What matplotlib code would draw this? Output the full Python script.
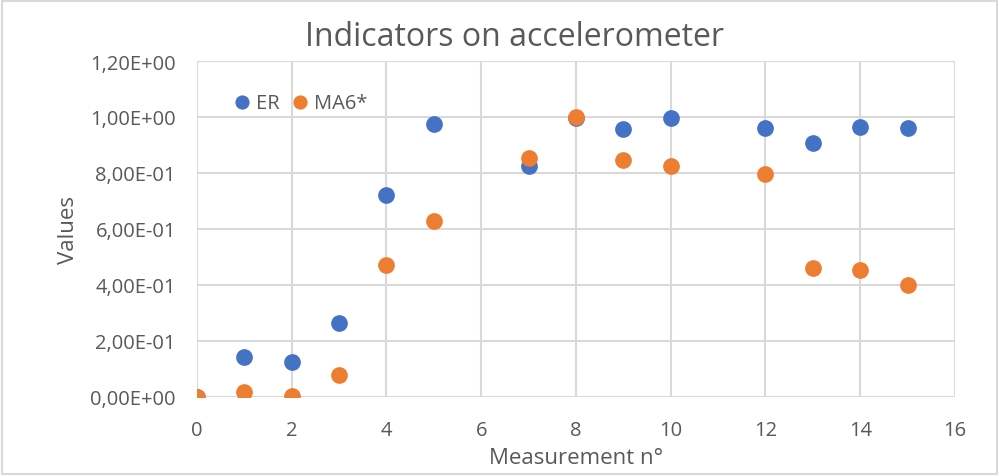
import matplotlib
matplotlib.use("Agg")
import matplotlib.pyplot as plt
from matplotlib.patches import Rectangle
from matplotlib.ticker import FuncFormatter

plt.rcParams['font.family'] = ['Open Sans', 'DejaVu Sans']

# data
x_meas = [0, 1, 2, 3, 4, 5, 7, 8, 9, 10, 12, 13, 14, 15]
er = [0.0, 0.143, 0.126, 0.265, 0.722, 0.975, 0.826, 0.997, 0.956, 0.998, 0.961, 0.906, 0.965, 0.961]
ma6 = [0.0, 0.018, 0.003, 0.077, 0.472, 0.628, 0.852, 1.0, 0.848, 0.824, 0.797, 0.461, 0.452, 0.401]

blue = '#4472C4'
orange = '#ED7D31'
txt = '#595959'
grid = '#D9D9D9'

fig = plt.figure(figsize=(9.99, 4.77), dpi=100)
ax = fig.add_axes([0.197, 0.166, 0.759, 0.704])

ax.scatter(x_meas, er, s=145, color=blue, label='ER', zorder=3, linewidths=0)
ax.scatter(x_meas, ma6, s=145, color=orange, label='MA6*', zorder=3, linewidths=0)

ax.set_xlim(0, 16)
ax.set_ylim(0, 1.2)
ax.set_xticks(range(0, 17, 2))
ax.set_yticks([0, 0.2, 0.4, 0.6, 0.8, 1.0, 1.2])
ax.yaxis.set_major_formatter(FuncFormatter(lambda v, p: f"{v:.2E}".replace('.', ',')))

ax.grid(True, color=grid, linewidth=1.5)
ax.set_axisbelow(True)
for s in ax.spines.values():
    s.set_visible(False)
ax.tick_params(length=0, labelsize=14.5, colors=txt)
ax.tick_params(axis='y', pad=15)
ax.tick_params(axis='x', pad=17)

fig.text(0.515, 1 - 37 / 477, 'Indicators on accelerometer', fontsize=23, color=txt,
         ha='center', va='center')
ax.set_xlabel('Measurement n°', fontsize=16, color=txt, labelpad=5)
ax.set_ylabel('Values', fontsize=16, color=txt, labelpad=8)

leg = ax.legend(loc='upper left', bbox_to_anchor=(0.038, 0.93), ncol=2, frameon=False,
                fontsize=14.5, handlelength=0.8, handletextpad=0.3, columnspacing=0.6,
                markerscale=0.85, borderaxespad=0)
for t in leg.get_texts():
    t.set_color(txt)

fig.patches.append(Rectangle((0.002, 0.004), 0.996, 0.992, transform=fig.transFigure,
                             fill=False, edgecolor='#D9D9D9', linewidth=1.5))

fig.savefig('out.png', dpi=100)
